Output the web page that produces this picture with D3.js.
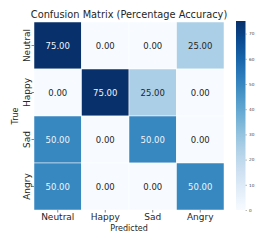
<!DOCTYPE html>
<html>
<head>
<meta charset="utf-8">
<script src="https://cdn.jsdelivr.net/npm/d3@7"></script>
<style>
  body { margin: 0; background: #fff; }
  text { font-family: "DejaVu Sans", sans-serif; }
</style>
</head>
<body>
<svg id="chart" width="266" height="244"></svg>
<script>
// confusion matrix values (rows = true, cols = predicted)
const labels = ["Neutral", "Happy", "Sad", "Angry"];
const matrix = [
  [75, 0, 0, 25],
  [0, 75, 25, 0],
  [50, 0, 50, 0],
  [50, 0, 0, 50]
];
const cbarTicks = [0, 10, 20, 30, 40, 50, 60, 70];

const svg = d3.select("#chart");
const m = {left: 34, right: 224, top: 22, bottom: 210};

const x = d3.scaleBand().domain(labels).range([m.left, m.right]);
const y = d3.scaleBand().domain(labels).range([m.top, m.bottom]);
const color = d3.scaleSequential(d3.interpolateBlues).domain([0, 75]);

const cells = [];
matrix.forEach((row, i) => row.forEach((v, j) => cells.push({t: labels[i], p: labels[j], v: v})));

svg.selectAll("rect.cell")
  .data(cells)
  .join("rect")
  .attr("class", "cell")
  .attr("x", d => x(d.p))
  .attr("y", d => y(d.t))
  .attr("width", x.bandwidth())
  .attr("height", y.bandwidth())
  .attr("fill", d => color(d.v))
  .attr("stroke", "#fff")
  .attr("stroke-width", 0.5);

svg.selectAll("text.val")
  .data(cells)
  .join("text")
  .attr("class", "val")
  .attr("x", d => x(d.p) + x.bandwidth() / 2)
  .attr("y", d => y(d.t) + y.bandwidth() / 2)
  .attr("text-anchor", "middle")
  .attr("dominant-baseline", "central")
  .attr("font-size", 8.5)
  .attr("fill", d => d.v > 40 ? "#f0f4fa" : "#262626")
  .text(d => d.v.toFixed(2));

// axes
const xAxis = svg.append("g")
  .attr("transform", `translate(0,${m.bottom})`)
  .call(d3.axisBottom(x).tickSize(2.5).tickPadding(1.5));
xAxis.select(".domain").remove();
xAxis.selectAll("text").attr("font-size", 9).attr("fill", "#262626").attr("font-family", "DejaVu Sans");
xAxis.selectAll("line").attr("stroke", "#333").attr("stroke-width", 0.6);

const yAxis = svg.append("g")
  .attr("transform", `translate(${m.left},0)`)
  .call(d3.axisLeft(y).tickSize(2.5).tickPadding(1.5));
yAxis.select(".domain").remove();
yAxis.selectAll("line").attr("stroke", "#333").attr("stroke-width", 0.6);
yAxis.selectAll(".tick text")
  .attr("font-size", 9).attr("fill", "#262626").attr("font-family", "DejaVu Sans")
  .attr("text-anchor", "middle")
  .attr("x", 0)
  .attr("dy", 0)
  .attr("y", -4.5)
  .attr("transform", "rotate(-90)");

svg.append("text")
  .attr("x", (m.left + m.right) / 2).attr("y", 18)
  .attr("text-anchor", "middle").attr("font-size", 9.8).attr("fill", "#262626")
  .text("Confusion Matrix (Percentage Accuracy)");

svg.append("text")
  .attr("x", (m.left + m.right) / 2).attr("y", 231)
  .attr("text-anchor", "middle").attr("font-size", 8).attr("fill", "#262626")
  .text("Predicted");

svg.append("text")
  .attr("transform", `translate(18,${(m.top + m.bottom) / 2}) rotate(-90)`)
  .attr("text-anchor", "middle").attr("font-size", 8).attr("fill", "#262626")
  .text("True");

// colorbar
const cbX = 236, cbW = 9.5;
const cb = d3.scaleLinear().domain([0, 75]).range([m.bottom, m.top - 1]);
const defs = svg.append("defs");
const grad = defs.append("linearGradient").attr("id", "cbgrad")
  .attr("x1", 0).attr("y1", 1).attr("x2", 0).attr("y2", 0);
d3.range(0, 1.01, 0.1).forEach(t => {
  grad.append("stop").attr("offset", t).attr("stop-color", d3.interpolateBlues(t));
});
svg.append("rect")
  .attr("x", cbX).attr("y", cb(75))
  .attr("width", cbW).attr("height", cb(0) - cb(75))
  .attr("fill", "url(#cbgrad)");

const cbAxis = svg.append("g")
  .attr("transform", `translate(${cbX + cbW},0)`)
  .call(d3.axisRight(cb).tickValues(cbarTicks).tickSize(1.5).tickPadding(2));
cbAxis.select(".domain").remove();
cbAxis.selectAll("line").attr("stroke", "#555").attr("stroke-width", 0.4);
cbAxis.selectAll("text").attr("font-size", 4.2).attr("fill", "#444").attr("font-family", "DejaVu Sans");
</script>
</body>
</html>
